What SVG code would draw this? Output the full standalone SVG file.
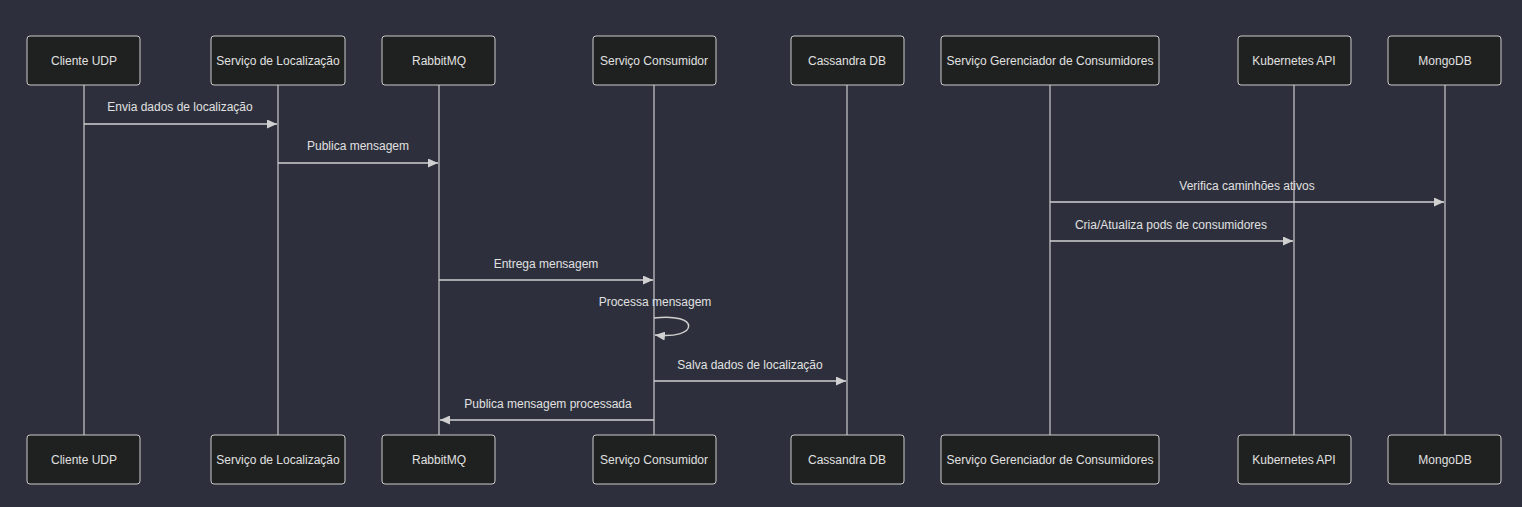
<svg xmlns="http://www.w3.org/2000/svg" width="1522" height="507" viewBox="0 0 1522 507">
<defs>
<marker id="arr" markerWidth="10" markerHeight="9" refX="10" refY="5" orient="auto" markerUnits="userSpaceOnUse" viewBox="0 0 10 10" preserveAspectRatio="none">
<path d="M0,0 L10,5 L0,10 z" fill="#d0d0d0"/>
</marker>
<style>
.actor{fill:#1f2020;stroke:#cccccc;stroke-width:1}
.at{fill:#e0e0e0;font-family:"Liberation Sans",Arial,sans-serif;font-size:12px;text-anchor:middle;dominant-baseline:central}
.life{stroke:#cccccc;stroke-width:1.2}
.msg{stroke:#d0d0d0;stroke-width:1.5;fill:none;marker-end:url(#arr)}
.mt{fill:#e0e0e0;font-family:"Liberation Sans",Arial,sans-serif;font-size:12px;text-anchor:middle}
</style>
</defs>
<rect width="1522" height="507" fill="#2d303c"/>
<g id="lifelines">
<line class="life" x1="84" y1="85" x2="84" y2="435"/>
<line class="life" x1="278" y1="85" x2="278" y2="435"/>
<line class="life" x1="439" y1="85" x2="439" y2="435"/>
<line class="life" x1="654" y1="85" x2="654" y2="435"/>
<line class="life" x1="847" y1="85" x2="847" y2="435"/>
<line class="life" x1="1050" y1="85" x2="1050" y2="435"/>
<line class="life" x1="1294" y1="85" x2="1294" y2="435"/>
<line class="life" x1="1445" y1="85" x2="1445" y2="435"/>
</g>
<g id="n-cliente">
<rect class="actor" x="27" y="36" width="113" height="49" rx="3"/><text class="at" x="84" y="61">Cliente UDP</text>
<rect class="actor" x="27" y="435" width="113" height="49" rx="3"/><text class="at" x="84" y="460">Cliente UDP</text>
</g>
<g id="n-localizacao">
<rect class="actor" x="211" y="36" width="134" height="49" rx="3"/><text class="at" x="278" y="61">Serviço de Localização</text>
<rect class="actor" x="211" y="435" width="134" height="49" rx="3"/><text class="at" x="278" y="460">Serviço de Localização</text>
</g>
<g id="n-rabbit">
<rect class="actor" x="382" y="36" width="113" height="49" rx="3"/><text class="at" x="439" y="61">RabbitMQ</text>
<rect class="actor" x="382" y="435" width="113" height="49" rx="3"/><text class="at" x="439" y="460">RabbitMQ</text>
</g>
<g id="n-consumidor">
<rect class="actor" x="593" y="36" width="123" height="49" rx="3"/><text class="at" x="654" y="61">Serviço Consumidor</text>
<rect class="actor" x="593" y="435" width="123" height="49" rx="3"/><text class="at" x="654" y="460">Serviço Consumidor</text>
</g>
<g id="n-cassandra">
<rect class="actor" x="791" y="36" width="113" height="49" rx="3"/><text class="at" x="847" y="61">Cassandra DB</text>
<rect class="actor" x="791" y="435" width="113" height="49" rx="3"/><text class="at" x="847" y="460">Cassandra DB</text>
</g>
<g id="n-gerenciador">
<rect class="actor" x="941" y="36" width="218" height="49" rx="3"/><text class="at" x="1050" y="61">Serviço Gerenciador de Consumidores</text>
<rect class="actor" x="941" y="435" width="218" height="49" rx="3"/><text class="at" x="1050" y="460">Serviço Gerenciador de Consumidores</text>
</g>
<g id="n-kubernetes">
<rect class="actor" x="1238" y="36" width="113" height="49" rx="3"/><text class="at" x="1294" y="61">Kubernetes API</text>
<rect class="actor" x="1238" y="435" width="113" height="49" rx="3"/><text class="at" x="1294" y="460">Kubernetes API</text>
</g>
<g id="n-mongo">
<rect class="actor" x="1388" y="36" width="113" height="49" rx="3"/><text class="at" x="1445" y="61">MongoDB</text>
<rect class="actor" x="1388" y="435" width="113" height="49" rx="3"/><text class="at" x="1445" y="460">MongoDB</text>
</g>
<g id="connectors">
<line class="msg" x1="84" y1="124" x2="277" y2="124"/>
<text class="mt" x="180" y="111">Envia dados de localização</text>
<line class="msg" x1="278" y1="163" x2="438" y2="163"/>
<text class="mt" x="358" y="150">Publica mensagem</text>
<line class="msg" x1="1050" y1="202" x2="1444" y2="202"/>
<text class="mt" x="1247" y="190">Verifica caminhões ativos</text>
<line class="msg" x1="1050" y1="241" x2="1293" y2="241"/>
<text class="mt" x="1171" y="229">Cria/Atualiza pods de consumidores</text>
<line class="msg" x1="439" y1="280" x2="653" y2="280"/>
<text class="mt" x="546" y="268">Entrega mensagem</text>
<path class="msg" d="M654,318 C700,312 700,340 655,335"/>
<text class="mt" x="655" y="306">Processa mensagem</text>
<line class="msg" x1="654" y1="381" x2="846" y2="381"/>
<text class="mt" x="750" y="369">Salva dados de localização</text>
<line class="msg" x1="654" y1="420" x2="440" y2="420"/>
<text class="mt" x="548" y="408">Publica mensagem processada</text>
</g>
</svg>
